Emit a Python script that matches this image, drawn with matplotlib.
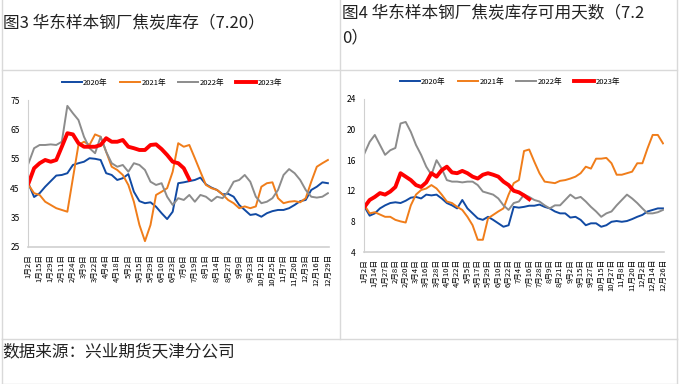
import numpy as np
import matplotlib.pyplot as plt
from matplotlib.lines import Line2D

plt.rcParams['font.family'] = ['Noto Sans CJK SC', 'DejaVu Sans']

# 图3 华东样本钢厂焦炭库存, values every half tick interval
left_ticks = ['1月2日', '1月15日', '1月29日', '2月11日', '2月24日', '3月9日', '3月22日',
              '4月4日', '4月18日', '5月2日', '5月15日', '5月29日', '6月10日', '6月23日',
              '7月6日', '7月19日', '8月1日', '8月14日', '8月27日', '9月9日', '9月23日',
              '10月12日', '10月25日', '11月7日', '11月20日', '12月3日', '12月16日', '12月29日']
left_2020 = [46.5, 42, 43.3, 45.5, 47.4, 49.3, 49.5, 50.1, 52.9, 53.5, 54, 55.2, 55, 54.6,
             50.1, 49.5, 47.8, 48.4, 49.8, 43.8, 40.6, 39.9, 40.2, 38.7, 36.5, 34.5, 37,
             46.7, 47, 47.4, 47.8, 48.6, 46.3, 45.2, 44.4, 42.9, 43.1, 42.1, 39.3, 37.6,
             35.9, 36.2, 35.3, 36.5, 37.2, 37.6, 37.6, 38.2, 39.3, 40.6, 41, 44.4, 45.5, 47, 46.7]
left_2021 = [46.1, 43.3, 42.7, 40.4, 39.3, 38.2, 37.6, 37, 48.4, 59.7, 60.8, 59.7, 63.3, 62.5,
             57.4, 52.3, 51.2, 49.5, 46.1, 40.4, 32.5, 27, 32.5, 42.7, 43.8, 45, 50.6, 60.3,
             59.1, 59.7, 55.2, 50.6, 46.1, 45, 44.4, 42.9, 41, 39.9, 38.2, 38.8, 38.2, 38.8,
             45.5, 46.7, 47, 41.6, 39.9, 40.4, 40.6, 40.2, 41.6, 47.2, 52.3, 53.5, 54.6]
left_2022 = [53.5, 58.6, 59.7, 59.7, 59.9, 59.7, 60.8, 73, 70.5, 68.2, 62.5, 58.6, 56.9, 62.5,
             57.4, 53.5, 52.3, 52.9, 50.6, 53.5, 52.9, 51.2, 47.2, 46.1, 46.7, 42.1, 39.3,
             41.6, 41, 42.7, 40.4, 42.7, 42.1, 40.6, 42.1, 41.6, 43.8, 47.2, 47.8, 49.5, 47.2,
             42.1, 39.9, 40.4, 41.6, 44.4, 49.5, 51.5, 50.1, 47.8, 44.4, 42.1, 41.8, 42.1, 43.3]
left_2023 = [46.7, 51.8, 53.5, 54.6, 54, 54.6, 59.1, 63.7, 63.3, 60.3, 59.1, 59.1, 59.1, 59.7,
             62, 60.8, 60.8, 61.4, 59.1, 58.6, 58, 58, 59.7, 59.9, 58.3, 56.3, 54, 53.5, 51.8, 48]

# 图4 华东样本钢厂焦炭库存可用天数
right_ticks = ['1月2日', '1月14日', '1月27日', '2月8日', '2月20日', '3月4日', '3月16日',
               '3月28日', '4月10日', '4月22日', '5月5日', '5月17日', '5月29日', '6月10日',
               '6月22日', '7月4日', '7月16日', '7月28日', '8月9日', '8月21日', '9月2日',
               '9月15日', '9月27日', '10月15日', '10月27日', '11月8日', '11月20日', '12月2日',
               '12月14日', '12月26日']
right_2020 = [9.9, 8.75, 9.05, 9.7, 10.1, 10.4, 10.5, 10.4, 10.7, 11.1, 11.2, 11.0, 11.5, 11.4,
              11.5, 11.0, 10.4, 10.1, 9.7, 10.8, 9.7, 9.05, 8.4, 8.2, 8.6, 8.2, 7.75, 7.3, 7.5,
              9.9, 9.8, 9.9, 10.05, 10.05, 10.2, 9.9, 9.7, 9.3, 9.05, 9.05, 8.5, 8.6, 8.2, 7.5,
              7.75, 7.75, 7.3, 7.5, 7.95, 8.05, 7.95, 8.05, 8.3, 8.6, 8.85, 9.3, 9.5, 9.7, 9.7]
right_2021 = [10.1, 9.05, 9.2, 8.9, 8.6, 8.6, 8.2, 8.0, 7.85, 10.1, 11.5, 12.1, 12.3, 12.75,
              12.3, 11.5, 10.6, 10.4, 9.9, 9.5, 8.6, 7.5, 5.6, 5.6, 8.4, 8.85, 9.3, 9.7, 11.5,
              13.0, 13.4, 17.2, 17.4, 15.8, 14.3, 13.2, 13.1, 13.0, 13.3, 13.4, 13.6, 13.85,
              14.3, 15.15, 14.9, 16.2, 16.2, 16.3, 15.6, 14.1, 14.1, 14.3, 14.5, 15.6, 15.6,
              17.55, 19.3, 19.3, 18.2]
right_2022 = [16.9, 18.4, 19.3, 18, 16.7, 17.3, 17.6, 20.8, 21.0, 19.7, 18, 16.7, 15.15, 14.1,
              16.0, 14.9, 13.4, 13.2, 13.2, 13.1, 13.2, 13.2, 12.75, 11.9, 11.7, 11.5, 11, 10.1,
              9.5, 10.4, 10.6, 11.5, 11.2, 10.8, 10.6, 10.1, 9.7, 10.1, 10.1, 10.8, 11.5, 11,
              11.2, 10.6, 9.9, 9.3, 8.6, 9.05, 9.3, 10.1, 10.8, 11.5, 11, 10.4, 9.7, 9.05, 9.05,
              9.2, 9.5]
right_2023 = [9.9, 10.8, 11.2, 11.7, 11.5, 11.9, 12.5, 14.3, 13.85, 13.4, 12.75, 12.5, 13.1,
              14.3, 13.85, 14.7, 15.15, 14.4, 14.3, 14.6, 14.3, 13.85, 13.6, 14.1, 14.3, 14.1,
              13.85, 13.2, 12.75, 12.0, 11.8, 11.4, 10.9]

years = ['2020年', '2021年', '2022年', '2023年']
colors = ['#114aa3', '#f07d1a', '#8c8c8c', '#ff0000']
widths = [1.4, 1.4, 1.4, 2.8]

W, H = 679, 384
fig = plt.figure(figsize=(W / 100, H / 100), dpi=100)


def fx(px):
    return px / W


def fy(py):
    return 1 - py / H


def draw(rect, series, ticks, ylim, yticks, legend_y, legend_x):
    ax = fig.add_axes(rect)
    for s, c, lw, name in zip(series, colors, widths, years):
        x = np.arange(len(s)) * 0.5
        ax.plot(x, s, color=c, lw=lw, label=name, solid_joinstyle='round')
    ax.set_xlim(-0.05, len(ticks) - 1 + 0.1)
    ax.set_ylim(*ylim)
    ax.set_yticks(yticks)
    ax.set_xticks(range(len(ticks)))
    ax.set_xticklabels(ticks, rotation=90, fontsize=5.5)
    ax.tick_params(axis='y', labelsize=6, length=0, pad=6)
    ax.tick_params(axis='x', length=0, pad=5)
    for sp in ['top', 'right']:
        ax.spines[sp].set_visible(False)
    ax.spines['left'].set_color('#d0d0d0')
    ax.spines['bottom'].set_color('#d0d0d0')
    ax.spines['bottom'].set_linewidth(1.2)
    fig.legend(*ax.get_legend_handles_labels(), loc='center',
               bbox_to_anchor=(fx(legend_x), fy(legend_y)), ncol=4, frameon=False,
               fontsize=5.5, handlelength=2.6, columnspacing=1.6, handletextpad=0.2)
    return ax


draw([fx(28), fy(247), fx(329) - fx(28), fy(100) - fy(247)],
     [left_2020, left_2021, left_2022, left_2023], left_ticks,
     (25, 75), [25, 35, 45, 55, 65, 75], 83, 172)
draw([fx(364), fy(252), fx(664) - fx(364), fy(99) - fy(252)],
     [right_2020, right_2021, right_2022, right_2023], right_ticks,
     (4, 24), [4, 8, 12, 16, 20, 24], 82, 510)

# table borders
lc = '#d9d9d9'
for x in [1.5, 339.5, 676.5]:
    fig.add_artist(Line2D([fx(x), fx(x)], [fy(0), fy(338.5)], color=lc, lw=1))
for x in [1.5, 676.5]:
    fig.add_artist(Line2D([fx(x), fx(x)], [fy(338.5), fy(383.5)], color=lc, lw=1))
for y in [69.5, 338.5, 383.5]:
    fig.add_artist(Line2D([fx(1.5), fx(676.5)], [fy(y), fy(y)], color=lc, lw=1))

fig.text(fx(3), fy(24), '图3 华东样本钢厂焦炭库存（7.20）', fontsize=12, va='center', color='#222222')
fig.text(fx(342), fy(14), '图4 华东样本钢厂焦炭库存可用天数（7.2', fontsize=12, va='center', color='#222222')
fig.text(fx(342), fy(38), '0）', fontsize=12, va='center', color='#222222')
fig.text(fx(2), fy(352), '数据来源：兴业期货天津分公司', fontsize=12, va='center', color='#222222')

fig.savefig('out.png', dpi=100)
